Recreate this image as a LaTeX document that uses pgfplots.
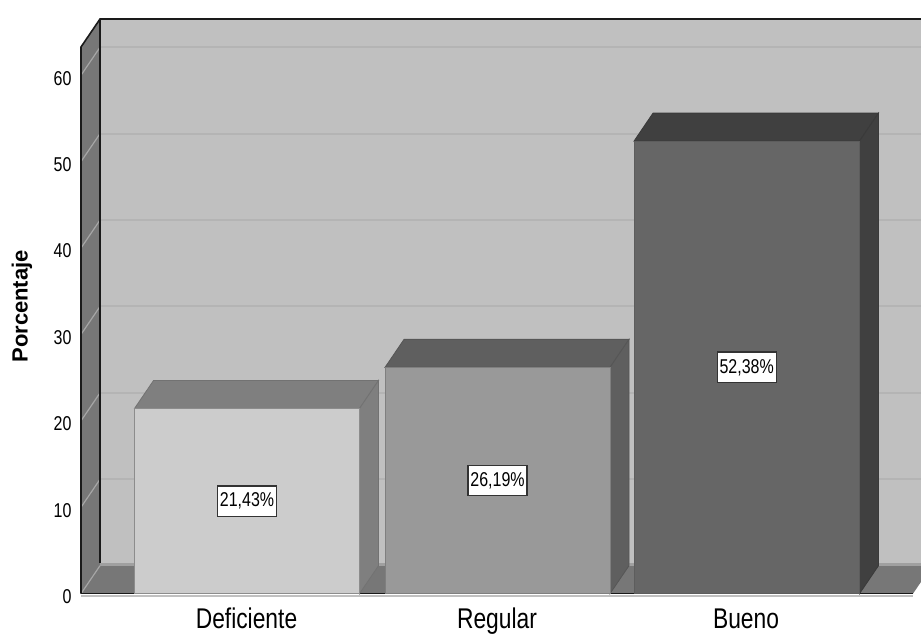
\documentclass[border=0pt]{standalone}
\usepackage{fontspec}
\usepackage{pgfplots}
\pgfplotsset{compat=1.18}
\setmainfont{Liberation Sans}
\newfontfamily\narrowface[FakeStretch=0.8]{Liberation Sans}
\definecolor{wallback}{HTML}{C0C0C0}
\definecolor{wallside}{HTML}{777777}
\definecolor{gridback}{HTML}{B4B4B4}
\definecolor{gridside}{HTML}{A6A6A6}
\definecolor{floorband}{HTML}{A0A0A0}
\definecolor{edgeline}{HTML}{1A1A1A}
\definecolor{frontA}{HTML}{CCCCCC}
\definecolor{depthA}{HTML}{7F7F7F}
\definecolor{frontB}{HTML}{999999}
\definecolor{depthB}{HTML}{5F5F5F}
\definecolor{frontC}{HTML}{666666}
\definecolor{depthC}{HTML}{404040}
\begin{document}
\begin{tikzpicture}[x=1pt,y=1pt]
\useasboundingbox (0,0) rectangle (921,635);
\begin{axis}[
  at={(78pt,37pt)}, anchor=south west,
  scale only axis, width=843pt, height=583.2pt,
  xmin=78, xmax=921, ymin=-0.5, ymax=67,
  axis line style={draw=none},
  tick style={draw=none},
  /pgf/number format/assume math mode=true,
  xtick={246.5,497,746},
  xticklabels={Deficiente,Regular,Bueno},
  ytick={0,10,20,30,40,50,60},
  xticklabel style={font=\narrowface\fontsize{28.5}{30}\selectfont, text height=21pt, text depth=0pt, yshift=-6pt},
  yticklabel style={font=\narrowface\fontsize{20}{22}\selectfont, yshift=-3pt, xshift=-3pt},
  ylabel={\textbf{Porcentaje}},
  ylabel style={font=\fontsize{22}{26}\selectfont, at={(axis description cs:-0.0665,0.5)}, anchor=center, rotate=0},
]
% back wall, side wall and floor
\addplot[fill=wallback, draw=none] coordinates {(100,3.24) (932,3.24) (932,66.51) (100,66.51)} --cycle;
\addplot[fill=wallside, draw=none] coordinates {(81,0) (100,3.24) (100,66.51) (81,63.27)} --cycle;
\addplot[fill=wallside, draw=none] coordinates {(81,0) (913,0) (932,3.24) (100,3.24)} --cycle;
\addplot[floorband, line width=2.4pt] coordinates {(100,3.4) (932,3.4)};
% gridlines on the back wall and their continuation across the side wall
\addplot[gridback, line width=2pt] coordinates {(100,13.24) (932,13.24)};
\addplot[gridback, line width=2pt] coordinates {(100,23.24) (932,23.24)};
\addplot[gridback, line width=2pt] coordinates {(100,33.24) (932,33.24)};
\addplot[gridback, line width=2pt] coordinates {(100,43.24) (932,43.24)};
\addplot[gridback, line width=2pt] coordinates {(100,53.24) (932,53.24)};
\addplot[gridback, line width=2pt] coordinates {(100,63.24) (932,63.24)};
\addplot[gridside, line width=1.2pt] coordinates {(81,0) (100,3.24)};
\addplot[gridside, line width=1.2pt] coordinates {(81,10) (100,13.24)};
\addplot[gridside, line width=1.2pt] coordinates {(81,20) (100,23.24)};
\addplot[gridside, line width=1.2pt] coordinates {(81,30) (100,33.24)};
\addplot[gridside, line width=1.2pt] coordinates {(81,40) (100,43.24)};
\addplot[gridside, line width=1.2pt] coordinates {(81,50) (100,53.24)};
\addplot[gridside, line width=1.2pt] coordinates {(81,60) (100,63.24)};
% dark frame of the walls
\addplot[edgeline, line width=1.6pt] coordinates {(81,0) (81,63.27) (100,66.51) (921,66.51)};
\addplot[edgeline, line width=1.6pt] coordinates {(100,3.6) (100,66.51)};
\addplot[wallback, line width=1.6pt] coordinates {(81,-0.24) (913,-0.24)};
\addplot[edgeline, line width=1.4pt] coordinates {(81,0) (913,0)};
% Deficiente
\addplot[fill=depthA, draw=depthA!90!black, line width=0.8pt] coordinates {(134.5,21.43) (359.5,21.43) (378.5,24.67) (153.5,24.67)} --cycle;
\addplot[fill=depthA, draw=depthA!90!black, line width=0.8pt] coordinates {(359.5,0) (378.5,3.24) (378.5,24.67) (359.5,21.43)} --cycle;
\addplot[fill=frontA, draw=depthA!90!white, line width=0.8pt] coordinates {(134.5,0) (359.5,0) (359.5,21.43) (134.5,21.43)} --cycle;
% Regular
\addplot[fill=depthB, draw=depthB!90!black, line width=0.8pt] coordinates {(385,26.19) (610,26.19) (629,29.43) (404,29.43)} --cycle;
\addplot[fill=depthB, draw=depthB!90!black, line width=0.8pt] coordinates {(610,0) (629,3.24) (629,29.43) (610,26.19)} --cycle;
\addplot[fill=frontB, draw=depthB!80!white, line width=0.8pt] coordinates {(385,0) (610,0) (610,26.19) (385,26.19)} --cycle;
% Bueno
\addplot[fill=depthC, draw=depthC!90!black, line width=0.8pt] coordinates {(634,52.38) (859.5,52.38) (878.5,55.62) (653,55.62)} --cycle;
\addplot[fill=depthC, draw=depthC!90!black, line width=0.8pt] coordinates {(859.5,0) (878.5,3.24) (878.5,55.62) (859.5,52.38)} --cycle;
\addplot[fill=frontC, draw=depthC!85!white, line width=0.8pt] coordinates {(634,0) (859.5,0) (859.5,52.38) (634,52.38)} --cycle;
% value labels at mid height of each bar
\tikzset{valuebox/.style={draw=black!80, line width=1.4pt, fill=white, inner sep=0pt,
  minimum width=59pt, minimum height=30.5pt, font=\narrowface\fontsize{20}{22}\selectfont}}
\node[valuebox] at (axis cs:247,10.715) {21,43\%};
\node[valuebox] at (axis cs:497.5,13.095) {26,19\%};
\node[valuebox] at (axis cs:746.7,26.19) {52,38\%};
\end{axis}
\end{tikzpicture}
\end{document}
